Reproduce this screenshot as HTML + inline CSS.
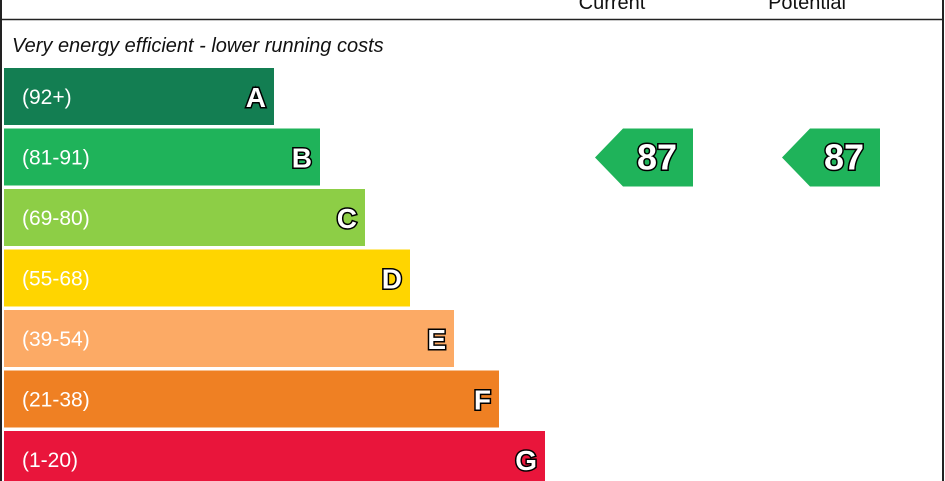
<!DOCTYPE html>
<html><head><meta charset="utf-8"><style>
html,body{margin:0;padding:0;background:#fff;}
svg{display:block;font-family:"Liberation Sans",sans-serif;}
</style></head><body>
<svg id="c" width="945" height="481" viewBox="0 0 945 481">
<rect x="1" y="-5" width="942" height="490" fill="none" stroke="#222" stroke-width="2"/>
<line x1="1" y1="19.5" x2="943" y2="19.5" stroke="#222" stroke-width="1.5"/>
<text x="612" y="9" font-size="20" text-anchor="middle" fill="#111">Current</text>
<text x="807" y="9" font-size="20" text-anchor="middle" fill="#111">Potential</text>
<text x="12" y="52" font-size="20" font-style="italic" fill="#111">Very energy efficient - lower running costs</text>
<g id="bars"></g>
<g id="arrows"></g>
</svg>
<script>
const bands = ["A","B","C","D","E","F","G"];
const ranges = ["(92+)","(81-91)","(69-80)","(55-68)","(39-54)","(21-38)","(1-20)"];
const bandMax = [100,91,80,68,54,38,20];
const colors = ["#137e52","#1fb35a","#8dce46","#ffd500","#fcaa65","#ef8023","#e9153b"];
const currentValue = [87];
const potentialValue = [87];
const NS="http://www.w3.org/2000/svg";
const barTop=68, barPitch=60.5, barH=57, barX=4;
const widths=[270,316,361,406,450,495,541];
function bandIndex(v){for(let i=bands.length-1;i>=0;i--){if(v<=bandMax[i])return i;}return 0;}
function yOf(i){return barTop+i*barPitch;}
const bg=document.getElementById('bars');
bands.forEach((b,i)=>{
  const y=yOf(i);
  const r=document.createElementNS(NS,'rect');
  r.setAttribute('x',barX);r.setAttribute('y',y);r.setAttribute('width',widths[i]);r.setAttribute('height',barH);r.setAttribute('fill',colors[i]);
  
  
  bg.appendChild(r);
  const t=document.createElementNS(NS,'text');
  t.setAttribute('x',22);t.setAttribute('y',y+36);t.setAttribute('font-size',21);t.setAttribute('fill','#fff');
  t.textContent=ranges[i];
  
  
  bg.appendChild(t);
  const l=document.createElementNS(NS,'text');
  l.setAttribute('x',barX+widths[i]-8);l.setAttribute('y',y+39);l.setAttribute('font-size',28);l.setAttribute('font-weight','bold');
  l.setAttribute('text-anchor','end');l.setAttribute('fill','#fff');l.setAttribute('stroke','#000');l.setAttribute('stroke-width','3');l.setAttribute('paint-order','stroke');
  l.textContent=b;
  
  
  bg.appendChild(l);
});
const ag=document.getElementById('arrows');
function arrow(v,x0,name){
  const i=bandIndex(v), y=yOf(i), h=barH+1, w=98, tip=28;
  const p=document.createElementNS(NS,'polygon');
  p.setAttribute('points',`${x0},${y+h/2} ${x0+tip},${y} ${x0+w},${y} ${x0+w},${y+h} ${x0+tip},${y+h}`);
  p.setAttribute('fill',colors[i]);
  
  
  ag.appendChild(p);
  const t=document.createElementNS(NS,'text');
  t.setAttribute('x',x0+62);t.setAttribute('y',y+41);t.setAttribute('font-size',36);t.setAttribute('font-weight','bold');
  t.setAttribute('text-anchor','middle');t.setAttribute('fill','#fff');t.setAttribute('stroke','#000');t.setAttribute('stroke-width','3');t.setAttribute('paint-order','stroke');
  t.textContent=v;
  
  
  ag.appendChild(t);
}
arrow(currentValue[0],595,'current-rating');
arrow(potentialValue[0],782,'potential-rating');
</script>
</body></html>
